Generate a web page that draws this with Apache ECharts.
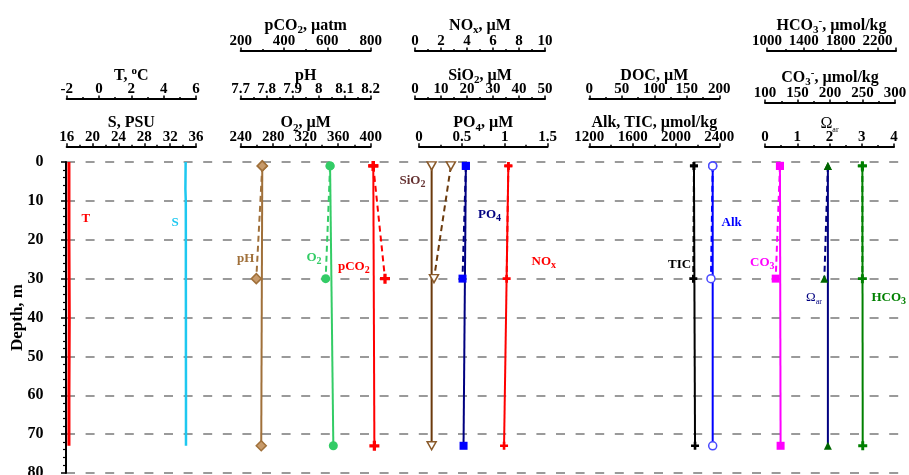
<!DOCTYPE html>
<html><head><meta charset="utf-8">
<script src="https://cdn.jsdelivr.net/npm/echarts@6/dist/echarts.min.js"></script>
<style>html,body{margin:0;padding:0;background:#fff}#c{width:909px;height:475px}</style>
</head><body><div id="c"></div>
<script>
// ---------------- DATA ----------------
// CTD profiles (continuous)
const ctdDepth = [0, 7, 10, 20, 30, 40, 50, 60, 73];
const tempC    = [-1.86, -1.86, -1.86, -1.86, -1.85, -1.84, -1.85, -1.86, -1.86];
const salPSU   = [34.40, 34.36, 34.42, 34.43, 34.43, 34.44, 34.44, 34.45, 34.45];

// bottle samples: profile A (solid) and profile B (dashed)
const depthA = [1, 73];
const depthB = [1, 30];
const pco2A = [812, 817];    const pco2B = [812, 866];
const phA   = [7.783, 7.779]; const phB  = [7.783, 7.760];
const o2A   = [350, 354];    const o2B   = [350, 344.6];
const sio2A = [6.4, 6.4];    const sio2B = [13.8, 7.3];
const po4A  = [0.547, 0.520]; const po4B = [0.547, 0.508];
const noxA  = [7.18, 6.85];  const noxB  = [7.18, 7.05];
const ticA  = [2166, 2176];  const ticB  = [2166, 2160];
const alkA  = [2339, 2339];  const alkB  = [2339, 2323];
const co3A  = [123, 124];    const co3B  = [123, 116.5];
const omegaA = [1.95, 1.95]; const omegaB = [1.95, 1.84];
const hco3A = [2035, 2039];  const hco3B = [2035, 2035];

// axes: keys, titles, ranges, tick steps
const axisKeys  = ['T','S','pCO2','pH','O2','NOx','SiO2','PO4','DOC','AlkTIC','HCO3','CO3','Omega'];
const axisNames = ['T, {sup|o}C','S, PSU','pCO{sub|2}, µatm','pH','O{sub|2}, µM','NO{sub|x}, µM',
  'SiO{sub|2}, µM','PO{sub|4}, µM','DOC, µM','Alk, TIC, µmol/kg','HCO{sub|3}{sup|-}, µmol/kg',
  'CO{sub|3}{sup|-}, µmol/kg','{om|Ω}{sm|ar}'];
const axisMin  = [-2, 16, 200, 7.7, 240, 0, 0, 0, 0, 1200, 1000, 100, 0];
const axisMax  = [6, 36, 800, 8.2, 400, 10, 50, 1.5, 200, 2400, 2400, 300, 4];
const axisStep = [2, 4, 200, 0.1, 40, 2, 10, 0.5, 50, 400, 400, 50, 1];
const depthMin = 0, depthMax = 80, depthStep = 10;
const depthTitle = 'Depth, m';
// pCO2 values run past the 800 end of its printed scale; same scale, extended hidden range
const pco2DataMax = 900;

// ---------------- LAYOUT / STYLE ----------------
const F = 'Liberation Serif';
const PLOT_TOP = 162, PLOT_H = 311;
const axisLayout = {
  T:{left:66.7,width:129.3,lineY:99,gap:13.5},   S:{left:66.7,width:129.3,lineY:146.7,gap:13.5},
  pCO2:{left:240.7,width:130,lineY:51,gap:15.5}, pH:{left:240.7,width:130,lineY:99,gap:13.5},
  O2:{left:240.7,width:130,lineY:146.7,gap:13.5},
  NOx:{left:415,width:130,lineY:51,gap:15.5},    SiO2:{left:415,width:130,lineY:99,gap:13.5},
  PO4:{left:419,width:128.5,lineY:146.7,gap:13.5},
  DOC:{left:589.3,width:130,lineY:99,gap:13.5},  AlkTIC:{left:589.3,width:130,lineY:146.7,gap:13.5},
  HCO3:{left:767,width:129,lineY:51,gap:15.5},   CO3:{left:765,width:130,lineY:103,gap:15},
  Omega:{left:765,width:129,lineY:147,gap:13.5}
};
const C = {red:'#ff0000', cyan:'#1ec8f0', ph:'#a0703a', o2:'#33cc66', sio2:'#6b3a0c', navy:'#000080',
  blue:'#0000ff', black:'#000000', mag:'#ff00ff', green:'#008000', dgreen:'#006600'};
const PLUS = 'path://M-1.3,-4H1.3V-1.3H4V1.3H1.3V4H-1.3V1.3H-4V-1.3H-1.3Z';
const DTRI = 'path://M0,0L10,0L5,9Z';

const nameRich = {
  sub:{fontSize:11, fontWeight:'bold', fontFamily:F, color:'#000', lineHeight:11, verticalAlign:'bottom'},
  sup:{fontSize:11, fontWeight:'bold', fontFamily:F, color:'#000', lineHeight:11, verticalAlign:'top'},
  om:{fontSize:16, fontWeight:'normal', fontFamily:F, color:'#000', lineHeight:20},
  sm:{fontSize:8, fontWeight:'normal', fontFamily:F, color:'#000', lineHeight:8, verticalAlign:'bottom'}
};
const plainNum = v => String(+v.toFixed(6));

const grids = [{left:66, right:9, top:PLOT_TOP, height:PLOT_H, outerBoundsMode:'none', containLabel:false}];
const xAxes = [{gridIndex:0, show:false, min:0, max:1}];
const yAxes = [{
  gridIndex:0, type:'value', inverse:true, min:depthMin, max:depthMax, interval:depthStep, offset:16.5,
  name:depthTitle, nameLocation:'middle', nameGap:23, nameRotate:90, nameMoveOverlap:false,
  nameTextStyle:{fontFamily:F, fontWeight:'bold', fontSize:17, color:'#000'},
  axisLine:{show:true, lineStyle:{color:'#000', width:2}},
  axisTick:{show:true, inside:false, length:5, lineStyle:{color:'#000', width:1.5}},
  minorTick:{show:true, splitNumber:5, length:3, lineStyle:{color:'#000', width:1.2}},
  axisLabel:{fontFamily:F, fontWeight:'bold', fontSize:16, color:'#000', margin:6, formatter:plainNum},
  splitLine:{show:true, lineStyle:{color:'#7a7a7a', width:1.6, type:[9,10.6]}}
}];
const axisIndex = {};
axisKeys.forEach((k, i) => {
  const L = axisLayout[k];
  const gi = grids.length;
  grids.push({left:L.left, width:L.width, top:PLOT_TOP, height:PLOT_H, outerBoundsMode:'none', containLabel:false});
  axisIndex[k] = xAxes.length;
  xAxes.push({
    gridIndex:gi, type:'value', position:'top', offset:PLOT_TOP - L.lineY,
    min:axisMin[i], max:axisMax[i], interval:axisStep[i],
    name:axisNames[i], nameLocation:'middle', nameGap:L.gap, nameMoveOverlap:false,
    nameTextStyle:{fontFamily:F, fontWeight:'bold', fontSize:16, color:'#000', lineHeight:20, rich:nameRich},
    axisLine:{show:true, onZero:false, lineStyle:{color:'#000', width:2}},
    axisTick:{show:true, inside:false, length:3.5, lineStyle:{color:'#000', width:1.5}},
    minorTick:{show:true, splitNumber:2, length:2, lineStyle:{color:'#000', width:1.5}},
    axisLabel:{fontFamily:F, fontWeight:'bold', fontSize:15, color:'#000', margin:2.5, formatter:plainNum,
      showMaxLabel: k === 'HCO3' ? false : true},
    splitLine:{show:false}
  });
  yAxes.push({gridIndex:gi, type:'value', show:false, inverse:true, min:depthMin, max:depthMax});
});
// hidden data axis for pCO2 sharing the printed scale but reaching further right
{
  const i = axisKeys.indexOf('pCO2'), L = axisLayout.pCO2;
  const gi = grids.length;
  const w = L.width * (pco2DataMax - axisMin[i]) / (axisMax[i] - axisMin[i]);
  grids.push({left:L.left, width:w, top:PLOT_TOP, height:PLOT_H, outerBoundsMode:'none', containLabel:false});
  axisIndex.pCO2data = xAxes.length;
  xAxes.push({gridIndex:gi, type:'value', show:false, min:axisMin[i], max:pco2DataMax});
  yAxes.push({gridIndex:gi, type:'value', show:false, inverse:true, min:depthMin, max:depthMax});
}

function pts(xs, ys){ return xs.map((v, i) => [v, ys[i]]); }
function line(key, xs, ys, o){
  return {
    type:'line', xAxisIndex:axisIndex[key], yAxisIndex:axisIndex[key], clip:false,
    data:pts(xs, ys), symbol:o.symbol || 'none', symbolSize:o.size || 8,
    showSymbol: !!o.symbol, animation:false, z: o.z || 3,
    lineStyle:{color:o.color, width:o.width || 2, type:o.dash ? [6,4] : 'solid'},
    itemStyle:{color:o.fill || o.color, borderColor:o.stroke || o.color, borderWidth:o.bw || 0, opacity:1},
    emphasis:{disabled:true}
  };
}

const series = [
  line('T', tempC, ctdDepth, {color:C.red, width:3}),
  line('S', salPSU, ctdDepth, {color:C.cyan, width:2.5}),
  line('pH', phA, depthA, {color:C.ph, symbol:'diamond', size:10, fill:'#c79a6a', stroke:C.ph, bw:1.5}),
  line('pH', phB, depthB, {color:C.ph, dash:true, symbol:'diamond', size:10, fill:'#c79a6a', stroke:C.ph, bw:1.5}),
  line('O2', o2A, depthA, {color:C.o2, symbol:'circle', size:9}),
  line('O2', o2B, depthB, {color:C.o2, dash:true, symbol:'circle', size:9}),
  line('pCO2data', pco2A, depthA, {color:C.red, symbol:PLUS, size:10}),
  line('pCO2data', pco2B, depthB, {color:C.red, dash:true, symbol:PLUS, size:10}),
  line('SiO2', sio2A, depthA, {color:C.sio2, symbol:DTRI, size:[9,8], fill:'#fff', stroke:'#8a5a2a', bw:1.5}),
  line('SiO2', sio2B, depthB, {color:C.sio2, dash:true, symbol:DTRI, size:[9,8], fill:'#fff', stroke:'#8a5a2a', bw:1.5}),
  line('PO4', po4A, depthA, {color:C.navy, symbol:'rect', size:8, fill:C.blue, stroke:C.blue}),
  line('PO4', po4B, depthB, {color:C.navy, dash:true, symbol:'rect', size:8, fill:C.blue, stroke:C.blue}),
  line('NOx', noxA, depthA, {color:C.red, symbol:PLUS, size:8}),
  line('NOx', noxB, depthB, {color:C.red, dash:true, symbol:PLUS, size:8}),
  line('AlkTIC', ticA, depthA, {color:C.black, symbol:PLUS, size:8}),
  line('AlkTIC', ticB, depthB, {color:C.black, dash:true, symbol:PLUS, size:8}),
  line('AlkTIC', alkA, depthA, {color:C.blue, symbol:'circle', size:8, fill:'#fff', stroke:'#4a4aff', bw:1.5}),
  line('AlkTIC', alkB, depthB, {color:C.blue, dash:true, symbol:'circle', size:8, fill:'#fff', stroke:'#4a4aff', bw:1.5}),
  line('CO3', co3A, depthA, {color:C.mag, symbol:'rect', size:8}),
  line('CO3', co3B, depthB, {color:C.mag, dash:true, symbol:'rect', size:8}),
  line('Omega', omegaA, depthA, {color:C.navy, symbol:'triangle', size:8, fill:C.dgreen, stroke:C.dgreen}),
  line('Omega', omegaB, depthB, {color:C.navy, dash:true, symbol:'triangle', size:8, fill:C.dgreen, stroke:C.dgreen}),
  line('HCO3', hco3A, depthA, {color:C.green, symbol:PLUS, size:9}),
  line('HCO3', hco3B, depthB, {color:C.green, dash:true, symbol:PLUS, size:9})
];

// in-plot series labels (annotation text)
const noteText  = ['T','S','pH','O{s|2}','pCO{s|2}','SiO{s|2}','PO{s|4}','NO{s|x}','TIC','Alk','CO{s|3}','{o|Ω}{a|ar}','HCO{s|3}'];
const noteColor = [C.red, C.cyan, C.ph, C.o2, C.red, '#663333', C.navy, C.red, C.black, C.blue, C.mag, C.navy, C.green];
const notePos = [[81.5,219],[171.5,223],[237,259],[306.5,258],[338,267],[399.5,181],[478,215],[531.5,262],
  [668,265],[721.5,223],[750,263],[806,298],[871.5,298]];
const graphics = noteText.map((t, i) => {
  const col = noteColor[i];
  return {type:'text', x:notePos[i][0], y:notePos[i][1], z:10,
    style:{text:t, fill:col, fontFamily:F, fontWeight:'bold', fontSize:13, lineHeight:16,
      align:'left', verticalAlign:'middle',
      rich:{
        s:{fill:col, fontFamily:F, fontWeight:'bold', fontSize:10, lineHeight:9, verticalAlign:'bottom'},
        o:{fill:col, fontFamily:F, fontWeight:'normal', fontSize:13, lineHeight:16},
        a:{fill:col, fontFamily:F, fontWeight:'normal', fontSize:8, lineHeight:7, verticalAlign:'bottom'}
      }}};
});

const chart = echarts.init(document.getElementById('c'), null, {renderer:'canvas'});
chart.setOption({
  animation:false, backgroundColor:'#fff',
  grid:grids, xAxis:xAxes, yAxis:yAxes, series:series, graphic:graphics
});
</script></body></html>
